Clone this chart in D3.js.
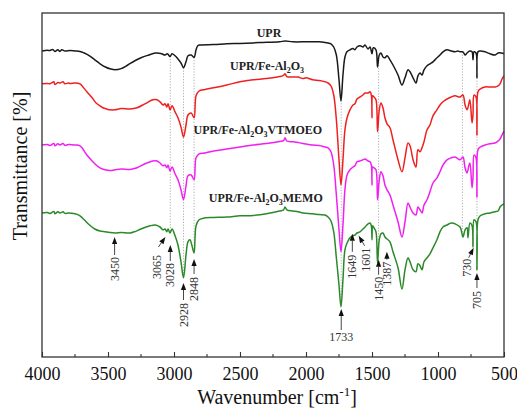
<!DOCTYPE html>
<html>
<head>
<meta charset="utf-8">
<script src="https://cdn.jsdelivr.net/npm/d3@7"></script>
<style>
  body { margin: 0; background: #fff; }
  text { font-family: "Liberation Serif", "Times New Roman", serif; }
</style>
</head>
<body>
<svg id="chart" width="517" height="415"></svg>
<script>
// FTIR spectra, stacked: [wavenumber (cm-1), transmittance (a.u., offset)]
const specUPR = [
  [4000,76.5],[3960,76.7],[3939,76.6],[3920,76.9],[3902,76.4],[3880,76.8],[3864,76.4],[3850,76.8],[3826,76.5],[3788,76.6],
  [3750,76.5],[3712,76.4],[3680,76.0],[3640,75.3],[3600,74.3],[3560,73.3],[3520,72.5],[3480,72.0],[3447,71.8],[3400,72.1],
  [3350,73.0],[3300,74.0],[3250,74.8],[3200,75.4],[3140,76.0],[3100,75.9],[3068,75.5],[3050,75.8],[3030,75.1],[3015,75.8],
  [2992,75.3],[2970,74.5],[2947,73.5],[2928,72.3],[2909,73.8],[2894,75.3],[2870,75.5],[2848,74.9],[2833,76.8],[2820,77.8],
  [2800,78.0],[2700,78.1],[2600,78.3],[2500,78.4],[2350,78.6],[2200,78.8],[2159,79.0],[2100,78.8],[2000,78.8],[1900,78.8],
  [1833,78.5],[1811,78.3],[1790,77.5],[1770,75.5],[1750,69.3],[1735,64.0],[1720,70.5],[1705,75.0],[1690,76.3],[1667,76.8],
  [1644,77.1],[1630,76.8],[1614,77.5],[1590,77.8],[1568,77.5],[1553,78.0],[1530,77.0],[1515,77.5],[1500,75.8],[1490,77.3],
  [1470,76.8],[1458,72.5],[1445,75.5],[1432,76.0],[1417,75.0],[1402,74.8],[1386,75.3],[1364,74.3],[1341,73.0],[1303,70.5],
  [1273,68.0],[1250,69.8],[1227,71.8],[1212,71.3],[1189,69.8],[1167,68.5],[1152,70.3],[1136,71.0],[1121,70.5],[1106,71.8],
  [1083,72.8],[1061,73.3],[1038,73.8],[1008,74.8],[985,75.5],[962,76.3],[932,76.8],[900,76.5],[871,76.3],[850,76.5],
  [833,76.3],[811,76.3],[795,75.5],[780,76.0],[760,76.5],[742,76.3],[735,74.3],[727,76.3],[712,76.0],[705,69.8],
  [697,76.3],[680,76.5],[644,76.3],[606,75.8],[568,75.5],[545,76.0],[520,76.0],[500,75.8]
];

const specFeAl2O3 = [
  [4000,68.3],[3960,68.4],[3939,68.3],[3910,68.8],[3902,68.1],[3880,68.6],[3864,68.5],[3840,68.8],[3826,68.3],[3800,68.5],
  [3788,68.4],[3750,68.5],[3712,68.3],[3697,67.8],[3660,66.3],[3620,64.8],[3590,63.5],[3561,62.8],[3538,62.3],[3510,62.0],
  [3485,61.8],[3447,61.8],[3400,62.1],[3333,62.0],[3280,62.3],[3220,63.3],[3160,64.3],[3129,64.3],[3106,63.8],[3083,63.0],
  [3068,63.3],[3055,62.5],[3045,63.3],[3030,61.8],[3015,62.8],[2992,61.3],[2970,59.8],[2947,57.5],[2928,55.0],[2909,58.0],
  [2894,60.5],[2870,61.0],[2848,59.8],[2833,65.3],[2810,66.5],[2765,66.9],[2700,67.3],[2600,68.0],[2500,68.8],[2400,69.3],
  [2300,69.6],[2200,70.1],[2170,70.4],[2159,70.8],[2145,70.1],[2100,70.0],[2060,70.0],[2023,69.6],[2000,69.8],[1950,69.3],
  [1900,69.1],[1856,68.8],[1833,68.5],[1811,67.8],[1790,65.5],[1770,59.3],[1750,49.3],[1735,43.0],[1720,49.3],[1705,56.8],
  [1689,59.8],[1667,61.8],[1644,63.0],[1629,63.3],[1614,64.5],[1591,65.0],[1568,65.5],[1553,66.0],[1530,66.0],[1515,66.3],
  [1505,65.5],[1500,59.8],[1495,65.3],[1485,65.0],[1470,64.3],[1458,56.3],[1445,61.8],[1432,63.5],[1417,62.3],[1402,59.8],
  [1386,58.3],[1364,57.3],[1341,54.3],[1303,49.3],[1273,46.3],[1250,49.8],[1227,53.5],[1212,52.8],[1189,49.3],[1167,47.5],
  [1152,51.8],[1136,51.3],[1121,52.3],[1106,53.8],[1083,56.8],[1061,58.0],[1038,60.3],[1008,61.8],[985,63.0],[962,63.8],
  [932,64.5],[900,65.0],[871,65.3],[833,65.0],[811,65.5],[795,63.0],[780,61.8],[765,63.5],[758,64.3],[742,58.5],
  [735,60.5],[727,65.5],[712,65.0],[705,55.5],[697,66.3],[680,67.0],[644,67.5],[606,67.5],[568,67.5],[545,67.8],
  [530,68.3],[515,69.5],[500,70.3]
];

const specVTMOEO = [
  [4000,53.0],[3960,53.1],[3939,52.9],[3910,53.4],[3902,52.8],[3880,53.3],[3864,53.0],[3840,53.4],[3826,52.9],[3800,53.1],
  [3750,53.0],[3712,52.8],[3697,52.3],[3660,50.5],[3620,49.0],[3590,48.0],[3561,47.3],[3523,46.8],[3485,46.6],[3447,46.8],
  [3400,47.0],[3333,46.9],[3280,47.3],[3220,48.3],[3160,49.0],[3129,49.0],[3106,48.5],[3083,47.8],[3068,48.0],[3055,47.3],
  [3045,48.0],[3030,46.5],[3015,47.5],[2992,45.8],[2970,44.3],[2947,41.8],[2928,39.3],[2909,42.8],[2894,45.3],[2870,45.5],
  [2848,44.3],[2833,49.8],[2810,50.8],[2765,51.0],[2700,51.5],[2600,52.0],[2500,52.5],[2400,53.0],[2300,53.4],[2200,53.9],
  [2170,54.1],[2159,54.8],[2145,54.0],[2100,53.8],[2060,53.6],[2023,53.4],[1950,53.0],[1900,52.9],[1856,52.5],[1833,52.3],
  [1811,51.3],[1790,48.0],[1770,40.5],[1750,31.8],[1735,26.3],[1720,33.0],[1705,41.8],[1689,45.5],[1667,46.8],[1644,47.5],
  [1629,47.8],[1614,48.8],[1591,49.0],[1568,49.3],[1553,49.5],[1530,49.0],[1515,48.8],[1505,48.0],[1500,43.0],[1495,47.5],
  [1485,47.3],[1470,46.8],[1458,39.3],[1445,44.3],[1432,46.3],[1417,45.3],[1402,43.0],[1386,41.8],[1364,40.5],[1341,38.0],
  [1303,33.8],[1273,30.0],[1250,33.8],[1227,38.5],[1212,37.5],[1189,36.0],[1167,35.5],[1152,37.5],[1136,36.8],[1121,36.0],
  [1106,38.0],[1083,39.3],[1061,41.3],[1038,43.5],[1008,44.8],[985,46.3],[962,48.0],[932,49.3],[900,49.8],[871,50.0],
  [833,49.3],[811,50.0],[795,47.3],[780,46.0],[765,48.0],[758,48.5],[742,42.3],[735,44.8],[727,50.5],[712,49.8],
  [705,40.0],[697,51.8],[680,52.5],[644,53.0],[606,53.3],[568,53.5],[545,54.0],[530,54.5],[515,55.5],[500,56.5]
];

const specMEMO = [
  [4000,36.0],[3960,36.1],[3939,35.9],[3910,36.4],[3902,35.8],[3880,36.3],[3864,36.0],[3840,36.3],[3826,35.9],[3800,36.0],
  [3750,35.8],[3712,35.3],[3680,34.3],[3640,33.0],[3600,32.0],[3561,31.5],[3523,31.3],[3485,31.1],[3447,31.0],[3400,31.1],
  [3333,31.0],[3300,31.3],[3250,32.0],[3182,32.8],[3140,33.0],[3106,32.5],[3083,31.8],[3068,32.0],[3055,31.3],[3045,32.0],
  [3030,31.0],[3015,32.0],[2992,30.3],[2970,28.0],[2947,23.8],[2928,19.8],[2909,25.5],[2894,28.8],[2879,29.3],[2865,28.0],
  [2848,26.0],[2833,32.8],[2810,34.3],[2765,34.8],[2700,34.9],[2600,35.0],[2500,35.3],[2400,35.4],[2300,35.8],[2200,36.5],
  [2170,36.8],[2159,37.5],[2145,36.8],[2100,36.5],[2060,36.3],[2023,36.0],[1950,35.8],[1900,35.6],[1856,35.5],[1833,35.0],
  [1811,34.0],[1790,31.3],[1770,24.8],[1750,18.0],[1735,12.5],[1720,19.3],[1705,26.8],[1689,28.5],[1667,29.8],[1649,30.3],
  [1629,30.5],[1614,31.0],[1591,31.3],[1568,32.0],[1553,32.5],[1530,33.3],[1515,33.5],[1505,32.8],[1500,29.3],[1495,32.8],
  [1485,32.3],[1470,31.3],[1458,23.5],[1445,29.3],[1432,30.8],[1417,31.0],[1402,30.0],[1386,29.5],[1364,28.8],[1341,26.3],
  [1303,22.3],[1273,17.0],[1250,21.8],[1227,24.8],[1212,23.8],[1189,21.8],[1167,21.3],[1152,23.3],[1136,22.8],[1121,21.8],
  [1106,23.8],[1083,24.8],[1061,25.8],[1038,27.3],[1008,29.3],[985,31.3],[962,32.5],[932,33.0],[900,33.5],[871,33.3],
  [833,32.5],[811,30.0],[795,31.8],[780,32.3],[773,29.8],[758,33.5],[742,32.8],[735,27.5],[727,34.3],[712,33.8],
  [705,21.8],[697,34.3],[680,35.3],[644,35.8],[606,36.0],[568,36.3],[545,36.5],[530,37.5],[515,38.0],[500,38.3]
];

// Series labels (subscripts marked with "_")
const seriesLabels = [
  [["UPR", ""]],
  [["UPR/Fe-Al", ""], ["2", "_"], ["O", ""], ["3", "_"]],
  [["UPR/Fe-Al", ""], ["2", "_"], ["O", ""], ["3", "_"], ["VTMOEO", ""]],
  [["UPR/Fe-Al", ""], ["2", "_"], ["O", ""], ["3", "_"], ["MEMO", ""]]
];
// label centre (wavenumber) and baseline (transmittance)
const seriesLabelAt = [[2280, 80.0], [2295, 71.8], [2365, 55.8], [2305, 38.8]];
const seriesColors = ["#1a1a1a", "#f02020", "#f020f0", "#2a8a2a"];

// Axis
const xTickValues = [4000, 3500, 3000, 2500, 2000, 1500, 1000, 500];
const xMinorTicks = [3750, 3250, 2750, 2250, 1750, 1250, 750];

// Band positions marked with dotted guides (from UPR trace down to MEMO trace)
const guideBands = [3028, 2928, 2848, 1733, 1450, 815, 705];

// Assigned bands on the MEMO trace
const peakWavenumbers = [3450, 3065, 3028, 2928, 2848, 1733, 1649, 1601, 1450, 1387, 730, 705];
const peakTipValues   = [30.0, 30.0, 28.0, 18.5, 24.5, 12.0, 30.8, 30.3, 24.3, 26.3, 27.3, 21.0];

// Annotation layout: arrow tail offset and label offset (px) from the arrow tip
const peakLayout = [
  {tail: [0, 18], text: [0, 20]},
  {tail: [-7, 10], text: [-8, 18]},
  {tail: [0, 16], text: [0, 18]},
  {tail: [0, 17], text: [0, 20]},
  {tail: [0, 15], text: [0, 18]},
  {tail: [0, 21], text: [0, 28], horizontal: true},
  {tail: [0, 18], text: [0, 21]},
  {tail: [6, 10], text: [7, 12]},
  {tail: [0, 15], text: [0, 17]},
  {tail: [0, 8], text: [0, 10]},
  {tail: [-5, 10], text: [-7, 11]},
  {tail: [0, 15], text: [0, 18]}
];

const svg = d3.select("#chart");
const W = 517, H = 415;
const margin = {left: 42, right: 13, top: 13, bottom: 58};
const x = d3.scaleLinear().domain([4000, 500]).range([margin.left, W - margin.right]);
const y = d3.scaleLinear().domain([0, 86]).range([H - margin.bottom, margin.top]);

const spectra = [specUPR, specFeAl2O3, specVTMOEO, specMEMO];

// value of a spectrum at a wavenumber (linear interpolation)
function valueAt(spec, wn) {
  for (let i = 0; i < spec.length - 1; i++) {
    const a = spec[i], b = spec[i + 1];
    if (wn <= a[0] && wn >= b[0]) {
      const t = (a[0] - wn) / (a[0] - b[0]);
      return a[1] + t * (b[1] - a[1]);
    }
  }
  return spec[spec.length - 1][1];
}

// dotted guides
svg.append("g").selectAll("line").data(guideBands).join("line")
  .attr("x1", d => x(d)).attr("x2", d => x(d))
  .attr("y1", d => y(valueAt(specUPR, d)))
  .attr("y2", d => y(valueAt(specMEMO, d)))
  .attr("stroke", "#9a9a9a").attr("stroke-width", 0.8)
  .attr("stroke-dasharray", "1.2,1.6");

// spectra
const line = d3.line().x(d => x(d[0])).y(d => y(d[1])).curve(d3.curveCatmullRom.alpha(0.5));
svg.append("g").selectAll("path").data(spectra).join("path")
  .attr("d", line)
  .attr("fill", "none")
  .attr("stroke", (d, i) => seriesColors[i])
  .attr("stroke-width", 1.5)
  .attr("stroke-linejoin", "round");

// series labels
seriesLabels.forEach((parts, i) => {
  const t = svg.append("text")
    .attr("x", x(seriesLabelAt[i][0])).attr("y", y(seriesLabelAt[i][1]))
    .attr("text-anchor", "middle")
    .attr("font-size", 12).attr("font-weight", "bold").attr("fill", "#222");
  let shifted = false;
  parts.forEach(([s, kind]) => {
    const sp = t.append("tspan").text(s);
    if (kind === "_") {
      sp.attr("font-size", 8).attr("dy", shifted ? 0 : 3);
      shifted = true;
    } else {
      if (shifted) sp.attr("dy", -3);
      shifted = false;
    }
  });
});

// frame
svg.append("rect")
  .attr("x", margin.left).attr("y", margin.top)
  .attr("width", W - margin.left - margin.right)
  .attr("height", H - margin.top - margin.bottom)
  .attr("fill", "none").attr("stroke", "#333").attr("stroke-width", 1.3);

// bottom axis, ticks pointing inward
const xAxis = d3.axisBottom(x).tickValues(xTickValues).tickSize(-5).tickPadding(10)
  .tickFormat(d3.format("d"));
const gx = svg.append("g").attr("transform", `translate(0,${H - margin.bottom})`).call(xAxis);
gx.select(".domain").remove();
gx.selectAll(".tick line").attr("stroke", "#333").attr("stroke-width", 1.1);
gx.selectAll(".tick text").attr("font-size", 18).attr("fill", "#111")
  .attr("font-family", "'Liberation Serif', 'Times New Roman', serif");
svg.append("g").selectAll("line").data(xMinorTicks).join("line")
  .attr("x1", d => x(d)).attr("x2", d => x(d))
  .attr("y1", H - margin.bottom).attr("y2", H - margin.bottom - 3)
  .attr("stroke", "#333").attr("stroke-width", 1.1);

// axis titles
const xt = svg.append("text")
  .attr("x", (margin.left + W - margin.right) / 2 + 4).attr("y", 404)
  .attr("text-anchor", "middle").attr("font-size", 20).attr("fill", "#111");
xt.append("tspan").text("Wavenumber [cm");
xt.append("tspan").text("-1").attr("font-size", 13).attr("dy", -8);
xt.append("tspan").text("]").attr("dy", 8);

svg.append("text")
  .attr("transform", `translate(27,${(margin.top + H - margin.bottom) / 2 - 19}) rotate(-90)`)
  .attr("text-anchor", "middle").attr("font-size", 20).attr("fill", "#111")
  .text("Transmittance [%]");

// peak annotations
const ann = svg.append("g");
peakWavenumbers.forEach((wn, i) => {
  const L = peakLayout[i];
  const tx = x(wn), ty = y(peakTipValues[i]);
  const sx = tx + L.tail[0], sy = ty + L.tail[1];
  const ang = Math.atan2(ty - sy, tx - sx);
  const hl = 7, hw = 2.6;
  const bx = tx - hl * Math.cos(ang), by = ty - hl * Math.sin(ang);
  ann.append("line").attr("x1", sx).attr("y1", sy).attr("x2", bx).attr("y2", by)
    .attr("stroke", "#333").attr("stroke-width", 0.9);
  ann.append("path")
    .attr("d", `M${tx},${ty}L${bx + hw * Math.sin(ang)},${by - hw * Math.cos(ang)}L${bx - hw * Math.sin(ang)},${by + hw * Math.cos(ang)}Z`)
    .attr("fill", "#111");
  const lx = tx + L.text[0], ly = ty + L.text[1];
  if (L.horizontal) {
    ann.append("text").attr("x", lx).attr("y", ly)
      .attr("text-anchor", "middle").attr("dominant-baseline", "central")
      .attr("font-size", 12).attr("fill", "#333").text(wn);
  } else {
    ann.append("text").attr("transform", `translate(${lx},${ly}) rotate(-90)`)
      .attr("text-anchor", "end").attr("dominant-baseline", "central")
      .attr("font-size", 12).attr("fill", "#333").text(wn);
  }
});
</script>
</body>
</html>
